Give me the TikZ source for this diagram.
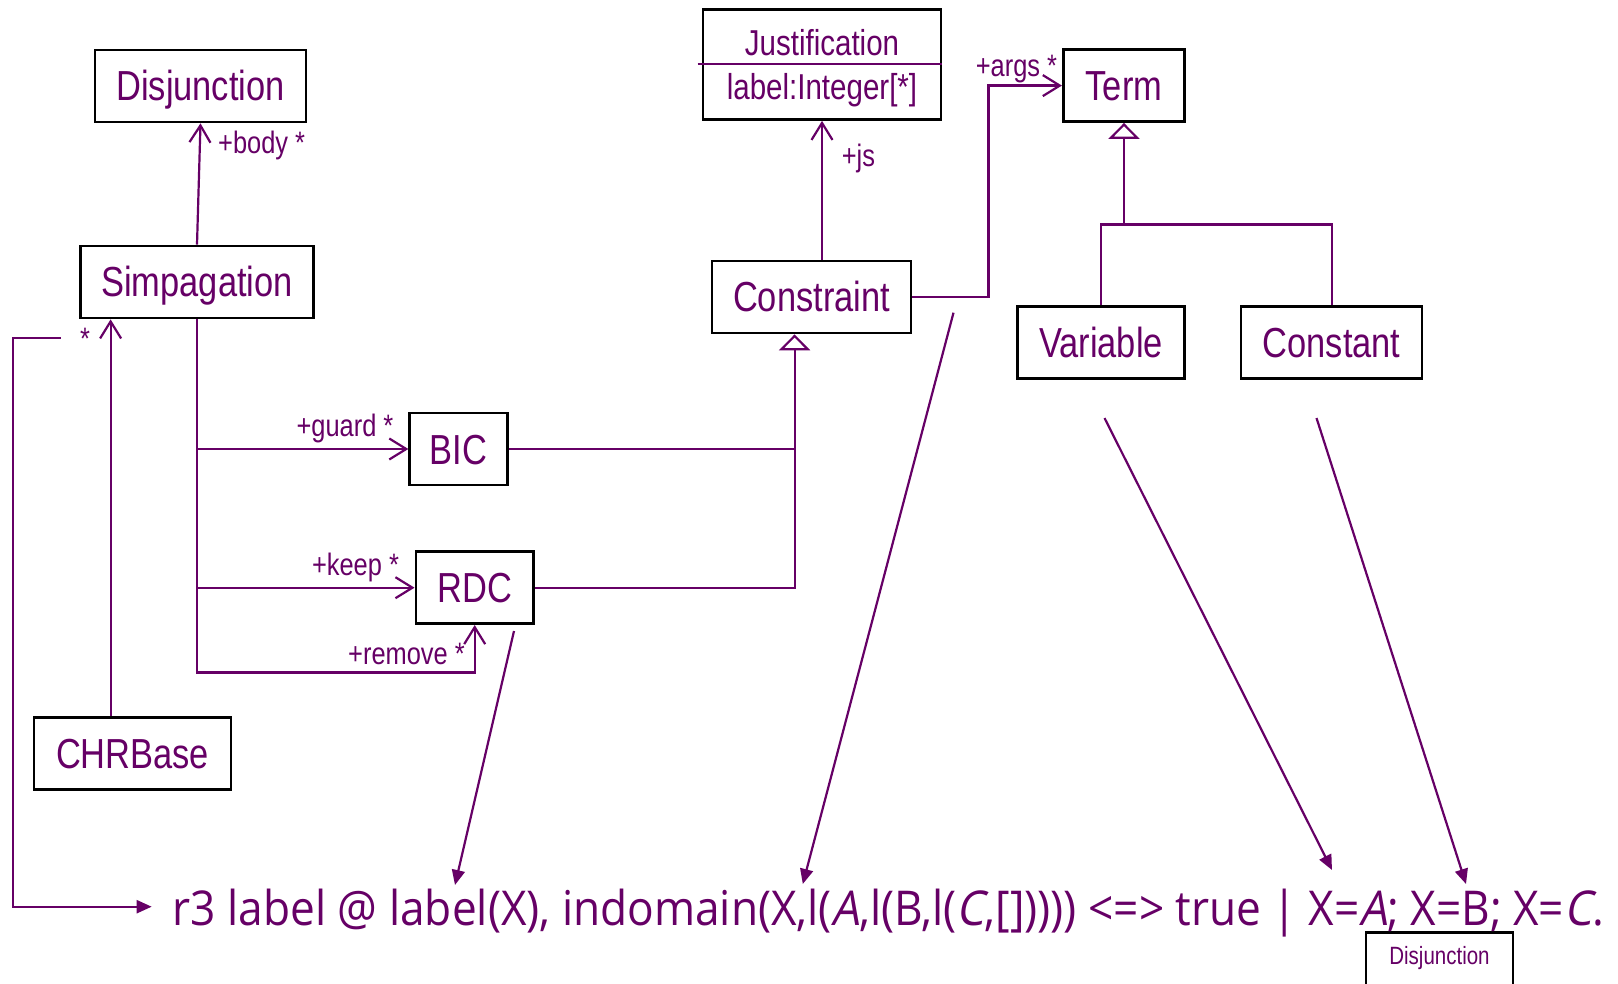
\documentclass[tikz,border=0pt]{standalone}
\usepackage{fontspec}
\usepackage{graphicx}
\setmainfont[FakeStretch=0.82]{Liberation Sans}
\newfontfamily\codefont{Open Sans}
\newfontfamily\codeit[FakeSlant=0.2]{Open Sans}
\usetikzlibrary{arrows.meta,calc}
\definecolor{umlpurple}{RGB}{102,0,102}
\tikzset{
  cls/.style={draw=black, line width=2.7pt, fill=white, rectangle, inner sep=0pt,
    text=umlpurple, font=\fontsize{42}{46}\selectfont, text height=30pt, text depth=0pt,
    minimum height=72pt},
  lbl/.style={text=umlpurple, font=\fontsize{31}{34}\selectfont, inner sep=0pt, anchor=base west},
  conn/.style={draw=umlpurple, line width=2.2pt},
  assoc/.style={conn, -{Straight Barb[length=17pt,width=21pt,line width=2.2pt]}},
  gen/.style={conn, -{Triangle[open,length=16pt,width=31pt,line width=2.2pt,fill=white]}},
  pointer/.style={conn, -{Triangle[length=15pt,width=13pt]}}
}
\begin{document}
\begin{tikzpicture}[x=1pt,y=-1pt]
\useasboundingbox (0,0) rectangle (1618,984);
\fill[white] (0,0) rectangle (1618,984);

% classes
\node[cls, minimum width=211pt] (disj) at (200.5,86) {Disjunction};
\node[cls, minimum width=233pt] (simp) at (197,282) {Simpagation};
\node[draw=black, line width=2.7pt, fill=white, minimum width=238pt, minimum height=110pt, inner sep=0pt] (just) at (822,64.5) {};
\node[text=umlpurple, font=\fontsize{36}{40}\selectfont, inner sep=0pt, text height=26pt, text depth=0pt] (justname) at (822,43) {Justification};
\node[text=umlpurple, font=\fontsize{36}{40}\selectfont, inner sep=0pt, text height=26pt, text depth=0pt] (justattr) at (822,87) {label:Integer[*]};
\draw[umlpurple, line width=2.7pt] ([xshift=-4pt]just.west |- 0,64) -- (just.east |- 0,64);
\node[cls, minimum width=121.5pt] (term) at (1124,85.6) {Term};
\node[cls, minimum width=199pt] (cons) at (811.6,297) {Constraint};
\node[cls, minimum width=167pt] (var) at (1101,342.6) {Variable};
\node[cls, minimum width=181pt] (const) at (1331.6,342.6) {Constant};
\node[cls, minimum width=98pt] (bic) at (458.7,449) {BIC};
\node[cls, minimum width=117.6pt] (rdc) at (474.7,587.7) {RDC};
\node[cls, minimum width=197pt] (chr) at (132.6,753.7) {CHRBase};
\node[draw=black, line width=2.7pt, fill=white, minimum width=147pt, minimum height=62pt, inner sep=0pt,
  anchor=north] (sdisj) at (1439.5,931) {};
\node[text=umlpurple, font=\fontsize{25}{28}\selectfont, inner sep=0pt] (sdisjtxt) at (1439.5,958.5) {Disjunction};

% associations
\draw[assoc] (simp.north) -- (disj.south);
\node[lbl] (lbody) at (218,154) {+body *};
\draw[assoc] (cons.north -| just.south) -- (just.south);
\node[lbl] (ljs) at (841.6,167) {+js};
\draw[assoc] (cons.east) -- ++(76,0) |- (term.west);
\node[lbl] (largs) at (975.6,77) {+args *};
\draw[assoc] ([xshift=-22pt]chr.north) -- ([xshift=-22pt]chr.north |- simp.south);
\node[text=umlpurple, font=\fontsize{31}{34}\selectfont, inner sep=0pt, anchor=base] (lstar) at (85,350) {*};

\draw[conn] (simp.south) -- (simp.south |- 0,671.7);
\draw[assoc] (simp.south |- bic.west) -- (bic.west);
\node[lbl] (lguard) at (296.4,436.7) {+guard *};
\draw[assoc] (simp.south |- rdc.west) -- (rdc.west);
\node[lbl] (lkeep) at (311.8,575) {+keep *};
\draw[assoc] (simp.south) |- ([yshift=-47.4pt]rdc.south) -- (rdc.south);
\node[lbl] (lremove) at (348,664.3) {+remove *};

% generalizations
\coordinate (cgen) at ([xshift=-17pt]cons.south);
\draw[conn] (bic.east) -- (bic.east -| cgen);
\draw[gen] (rdc.east) -| (cgen);
\coordinate (tgen) at ([yshift=-101.5pt]term.south);
\draw[conn] (var.north) |- (tgen) -| (const.north);
\draw[gen] (tgen) -- (term.south);

% code line
\node[inner sep=0pt, anchor=base west, text=umlpurple] (code) at (172.6,925)
  {\resizebox{1431pt}{\height}{\codefont\fontsize{48}{52}\selectfont r3 label @ label(X), indomain(X,l({\codeit A},l(B,l({\codeit C},[])))) <=> true | X={\codeit A}; X=B; X={\codeit C}.}};

% pointers
\coordinate (p1s) at (514,631);
\coordinate (p1e) at (455,885);
\coordinate (p2s) at (953.5,312.7);
\coordinate (p2e) at (802.8,884);
\coordinate (p3s) at (1104.5,418);
\coordinate (p3e) at (1332,870);
\coordinate (p4s) at (1316.5,418);
\coordinate (p4e) at (1466,884);
\draw[pointer] (p1s) -- (p1e);
\draw[pointer] (p2s) -- (p2e);
\draw[pointer] (p3s) -- (p3e);
\draw[pointer] (p4s) -- (p4e);
\coordinate (ls) at (60.7,338);
\coordinate (lt) at (151.7,906.7);
\draw[pointer] (ls) -- ++(-48,0) |- (lt);
\end{tikzpicture}
\end{document}
